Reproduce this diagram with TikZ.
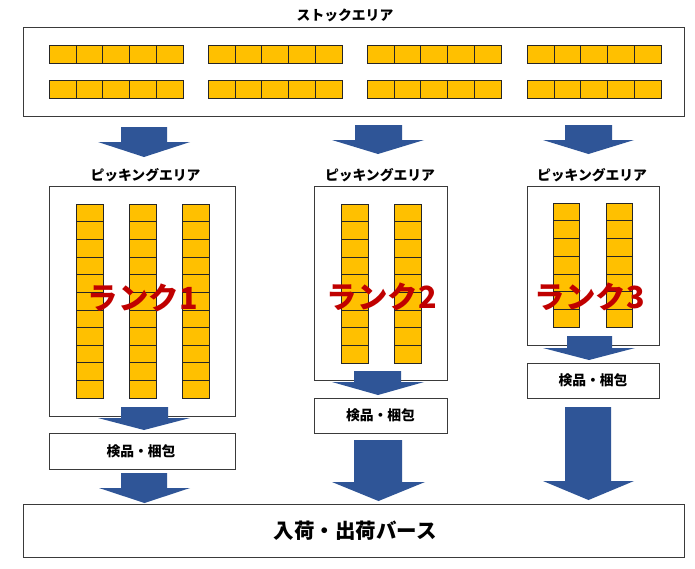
\documentclass[tikz,border=0pt]{standalone}
\usepackage{fontspec}
\setmainfont{Noto Sans CJK JP}
\definecolor{arrowblue}{HTML}{2F5597}
\definecolor{cellyellow}{HTML}{FFC000}
\definecolor{rankred}{HTML}{C00000}
\definecolor{boxline}{HTML}{3A3A3A}
\tikzset{
  areabox/.style={draw=boxline, line width=0.9pt, fill=white},
  cellbox/.style={draw=black!85, line width=0.6pt, fill=cellyellow},
  titletext/.style={inner sep=0pt, font=\fontsize{13.8}{14}\selectfont\bfseries},
  ranktext/.style={inner sep=0pt, text=rankred, font=\fontsize{30.5}{31}\selectfont\bfseries},
  inspecttext/.style={inner sep=0pt, font=\fontsize{13.8}{14}\selectfont\bfseries},
  berthtext/.style={inner sep=0pt, font=\fontsize{20.5}{21}\selectfont\bfseries},
}
% block arrow: x1,x2 (shaft), top, head start, hx1,hx2 (head), tip
\newcommand\blockarrow[7]{%
  \fill[arrowblue] (#1,#3) -- (#2,#3) -- (#2,#4) -- (#6,#4) -- ({(#5+#6)/2},#7)
    -- (#5,#4) -- (#1,#4) -- cycle;}
% horizontal rack: x0, y0, number of cells, cell width, height
\newcommand\hrack[5]{%
  \foreach \i in {1,...,#3}{
    \draw[cellbox] ({#1+(\i-1)*#4},#2) rectangle ({#1+\i*#4},{#2+#5});
  }}
% vertical rack: x0, y0, number of cells, width, cell height
\newcommand\vrack[5]{%
  \foreach \i in {1,...,#3}{
    \draw[cellbox] (#1,{#2+(\i-1)*#5}) rectangle ({#1+#4},{#2+\i*#5});
  }}
\begin{document}
\begin{tikzpicture}[x=1pt,y=-1pt]
\useasboundingbox (0,0) rectangle (695,568);
\fill[white] (0,0) rectangle (695,568);

% ---------- stock area ----------
\node[titletext] (stocktitle) at (345,15) {ストックエリア};
\draw[areabox] (23,27) rectangle (684,116);
\coordinate (stock) at (353,71);
\foreach \gx in {49,208,367,527}{
  \hrack{\gx}{45}{5}{26.8}{18}
  \hrack{\gx}{80}{5}{26.8}{18}
}

% arrows stock -> picking
\blockarrow{121}{167}{127}{142}{98}{190}{157}
\blockarrow{355}{402}{125}{140}{332}{424}{154}
\blockarrow{565}{612}{125}{140}{543}{634}{154}

% ---------- picking area 1 ----------
\node[titletext] (pick1title) at (145.5,175) {ピッキングエリア};
\draw[areabox] (49,186) rectangle (235,416);
\foreach \cx in {76,129,182}{ \vrack{\cx}{204}{11}{27}{17.64} }
\node[ranktext] (rank1) at (143,298) {ランク1};

% ---------- picking area 2 ----------
\node[titletext] (pick2title) at (380,175) {ピッキングエリア};
\draw[areabox] (314,186) rectangle (447,380);
\foreach \cx in {341,394}{ \vrack{\cx}{204}{9}{27}{17.67} }
\node[ranktext] (rank2) at (382,297) {ランク2};

% ---------- picking area 3 ----------
\node[titletext] (pick3title) at (592,175) {ピッキングエリア};
\draw[areabox] (527,186) rectangle (659,345);
\foreach \cx in {553,606}{ \vrack{\cx}{203}{7}{26}{17.71} }
\node[ranktext] (rank3) at (590,297) {ランク3};

% arrows picking -> inspection
\blockarrow{121}{168}{407}{418}{98}{190}{430}
\blockarrow{354}{401}{371}{382}{332}{424}{395}
\blockarrow{567}{612}{336}{348}{543}{635}{360}

% ---------- inspection / packing ----------
\draw[areabox] (49,433) rectangle (235,469);
\node[inspecttext] (insp1) at (141,451.5) {検品・梱包};
\draw[areabox] (314,398) rectangle (447,433);
\node[inspecttext] (insp2) at (380.5,415.5) {検品・梱包};
\draw[areabox] (527,363) rectangle (659,398);
\node[inspecttext] (insp3) at (593,380.5) {検品・梱包};

% arrows inspection -> berth
\blockarrow{121}{167}{473}{488}{99}{190}{503}
\blockarrow{354}{402}{440}{482}{332}{425}{501}
\blockarrow{565}{611}{407}{481}{543}{634}{500}

% ---------- berth ----------
\draw[areabox] (23,504) rectangle (684,557);
\node[berthtext] (berth) at (355,531) {入荷・出荷バース};
\end{tikzpicture}
\end{document}
